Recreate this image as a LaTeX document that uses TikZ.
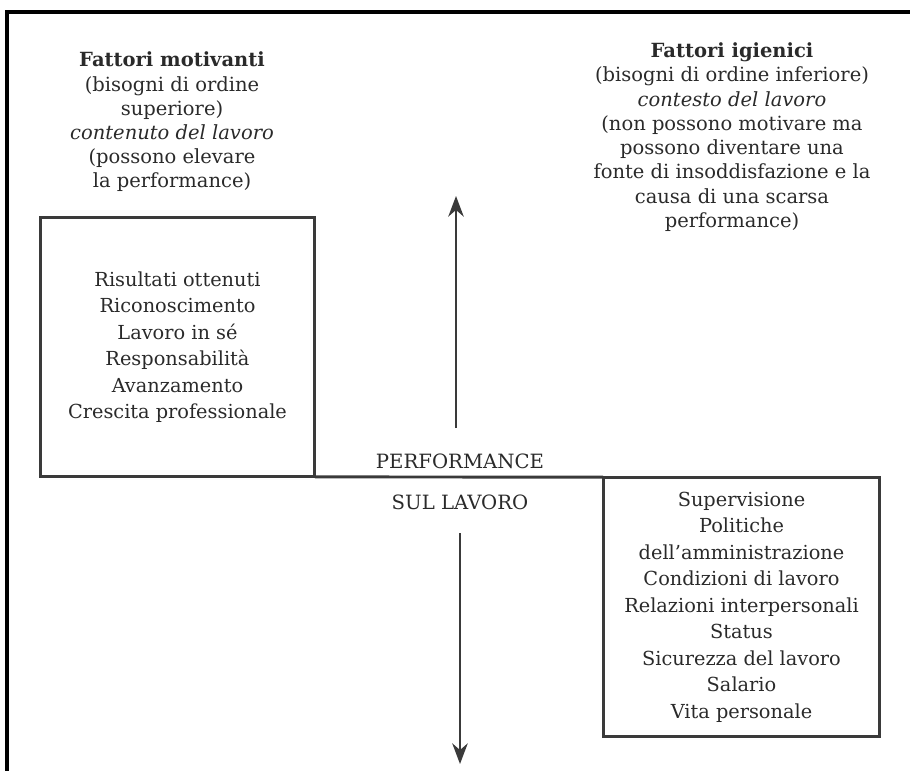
\documentclass[tikz,border=0pt]{standalone}
\usepackage{fontspec}
\setmainfont{DejaVu Serif}
\usetikzlibrary{arrows.meta}
\tikzset{>={Stealth[scale=1.4]}}
\definecolor{inkgray}{HTML}{3A3A3A}
\definecolor{textgray}{HTML}{2A2A2A}
\tikzset{
  boxframe/.style={draw=inkgray, line width=1.7pt, align=center, inner sep=0pt,
    outer sep=0pt, font=\fontsize{11}{15.1}\selectfont, text=textgray},
  headtext/.style={align=center, inner sep=0pt,
    font=\fontsize{11.1}{13.8}\selectfont, text=textgray},
  midtext/.style={inner sep=0pt, font=\fontsize{11.2}{12}\selectfont, text=textgray},
  axisarrow/.style={->, draw=inkgray, line width=1.2pt}
}

\begin{document}
\begin{tikzpicture}[x=0.02cm, y=-0.02cm]
  \useasboundingbox (0,0) rectangle (910,771);

  % coordinate della cornice e delle frecce
  \coordinate (FB) at (7,771);
  \coordinate (FC) at (7,12);
  \coordinate (FR) at (912,12);
  \coordinate (U0) at (456,428);
  \coordinate (U1) at (456,196);
  \coordinate (D0) at (460,533);
  \coordinate (D1) at (460,764);

  % cornice
  \draw[line width=2.2pt] (FB) -- (FC) -- (FR);

  % intestazioni
  \node[headtext] (motiv) at (172,122) {%
    \textbf{Fattori motivanti}\\
    (bisogni di ordine\\
    superiore)\\
    \textit{contenuto del lavoro}\\
    (possono elevare\\
    la performance)};
  \node[headtext] (igien) at (732,137) {%
    \textbf{Fattori igienici}\\
    (bisogni di ordine inferiore)\\
    \textit{contesto del lavoro}\\
    (non possono motivare ma\\
    possono diventare una\\
    fonte di insoddisfazione e la\\
    causa di una scarsa\\
    performance)};

  % riquadri
  \node[boxframe, minimum width=5.5cm, minimum height=5.2cm] (mbox) at (177.5,347) {%
    Risultati ottenuti\\
    Riconoscimento\\
    Lavoro in sé\\
    Responsabilità\\
    Avanzamento\\
    Crescita professionale};
  \node[boxframe, minimum width=5.54cm, minimum height=5.2cm] (ibox) at (741.5,607) {%
    Supervisione\\
    Politiche\\
    dell’amministrazione\\
    Condizioni di lavoro\\
    Relazioni interpersonali\\
    Status\\
    Sicurezza del lavoro\\
    Salario\\
    Vita personale};

  % linea di separazione
  \draw[draw=inkgray, line width=1.7pt] (mbox.south east) -- (ibox.north west);

  % etichette centrali
  \node[midtext] (perf) at (460,461) {PERFORMANCE};
  \node[midtext] (sul) at (460,502) {SUL LAVORO};

  % frecce
  \draw[axisarrow] (U0) -- (U1);
  \draw[axisarrow] (D0) -- (D1);
\end{tikzpicture}
\end{document}
